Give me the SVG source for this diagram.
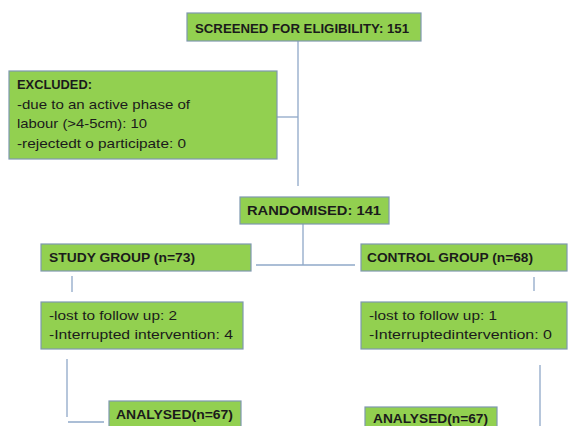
<svg xmlns="http://www.w3.org/2000/svg" width="570" height="426" viewBox="0 0 570 426">
<style>
.box{fill:#92D050;stroke:#7F98B0;stroke-width:1.2}
.t{font-family:"Liberation Sans",Arial,sans-serif;fill:#1b1b1b;font-size:13px}
.b{font-weight:bold}
.c{stroke:#8FA8C8;stroke-width:1.3;fill:none}
</style>
<rect width="570" height="426" fill="#ffffff"/>
<g id="connectors">
<line class="c" x1="298" y1="41" x2="298" y2="186"/>
<line class="c" x1="277" y1="117" x2="298" y2="117"/>
<line class="c" x1="303" y1="224" x2="303" y2="265"/>
<line class="c" x1="256" y1="265" x2="355" y2="265"/>
<line class="c" x1="72" y1="276" x2="72" y2="292"/>
<line class="c" x1="534" y1="277" x2="534" y2="291"/>
<line class="c" x1="67" y1="359" x2="67" y2="417"/>
<line class="c" x1="68" y1="422" x2="104" y2="422"/>
<line class="c" x1="540" y1="365" x2="540" y2="426"/>
</g>
<g id="screened">
<rect class="box" x="187" y="13" width="234" height="28"/>
<text class="t b" x="195" y="33" font-size="12" textLength="214" lengthAdjust="spacingAndGlyphs">SCREENED FOR ELIGIBILITY: 151</text>
</g>
<g id="excluded">
<rect class="box" x="9" y="71" width="268" height="88"/>
<text class="t b" x="17" y="89" font-size="14" textLength="75" lengthAdjust="spacingAndGlyphs">EXCLUDED:</text>
<text class="t" x="17" y="109" font-size="14" textLength="173" lengthAdjust="spacingAndGlyphs">-due to an active phase of</text>
<text class="t" x="17" y="128" font-size="14" textLength="130" lengthAdjust="spacingAndGlyphs">labour (&gt;4-5cm): 10</text>
<text class="t" x="17" y="148" font-size="14" textLength="169" lengthAdjust="spacingAndGlyphs">-rejectedt o participate: 0</text>
</g>
<g id="randomised">
<rect class="box" x="240" y="197" width="149" height="27"/>
<text class="t b" x="247" y="215" font-size="14" textLength="134" lengthAdjust="spacingAndGlyphs">RANDOMISED: 141</text>
</g>
<g id="study">
<rect class="box" x="41" y="244" width="210" height="27"/>
<text class="t b" x="49" y="262" font-size="13" textLength="146" lengthAdjust="spacingAndGlyphs">STUDY GROUP (n=73)</text>
</g>
<g id="control">
<rect class="box" x="361" y="244" width="206" height="27"/>
<text class="t b" x="367" y="262" font-size="13" textLength="166" lengthAdjust="spacingAndGlyphs">CONTROL GROUP (n=68)</text>
</g>
<g id="study-loss">
<rect class="box" x="41" y="302" width="202" height="47"/>
<text class="t" x="49" y="320" font-size="14" textLength="128" lengthAdjust="spacingAndGlyphs">-lost to follow up: 2</text>
<text class="t" x="49" y="339" font-size="14" textLength="184" lengthAdjust="spacingAndGlyphs">-Interrupted intervention: 4</text>
</g>
<g id="control-loss">
<rect class="box" x="361" y="302" width="206" height="47"/>
<text class="t" x="369" y="320" font-size="14" textLength="128" lengthAdjust="spacingAndGlyphs">-lost to follow up: 1</text>
<text class="t" x="369" y="339" font-size="14" textLength="183" lengthAdjust="spacingAndGlyphs">-Interruptedintervention: 0</text>
</g>
<g id="study-analysed">
<rect class="box" x="109" y="401" width="132" height="30"/>
<text class="t b" x="116" y="419" font-size="14" textLength="117" lengthAdjust="spacingAndGlyphs">ANALYSED(n=67)</text>
</g>
<g id="control-analysed">
<rect class="box" x="365" y="407" width="132" height="24"/>
<text class="t b" x="373" y="423" font-size="14" textLength="115" lengthAdjust="spacingAndGlyphs">ANALYSED(n=67)</text>
</g>
</svg>
